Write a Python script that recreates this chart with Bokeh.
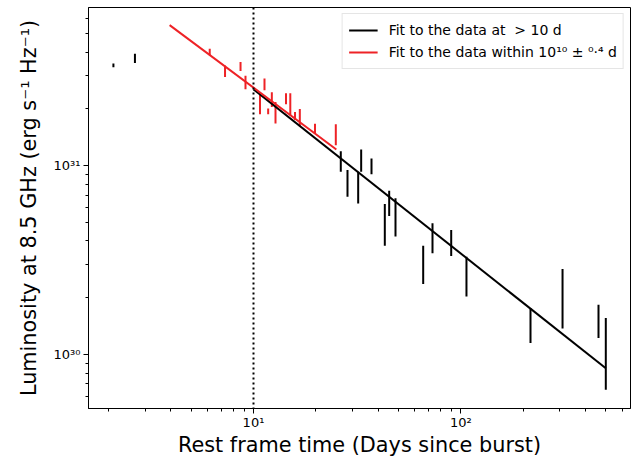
from bokeh.plotting import figure
from bokeh.models import (Range1d, FixedTicker, CustomJSTickFormatter, Span,
                          Legend, LegendItem)
from bokeh.embed import file_html
from bokeh.resources import INLINE

# ---- data ----
# early black points (before the red fit)
early_t = [2.11, 2.68]
early_lo = [3.33e31, 3.50e31]
early_hi = [3.48e31, 3.92e31]

# red points (fitted within 10^(1 +- 0.4) d)
red_t = [6.15, 7.29, 8.66, 9.15, 10.75, 11.30, 11.77, 12.26, 12.77, 14.35,
         15.05, 15.86, 16.73, 19.80, 24.95]
red_lo = [3.85e31, 2.95e31, 3.18e31, 2.54e31, 1.875e31, 2.51e31, 1.875e31,
          2.05e31, 1.675e31, 2.12e31, 1.85e31, 1.75e31, 1.62e31, 1.49e31, 1.285e31]
red_hi = [4.17e31, 3.40e31, 3.55e31, 3.00e31, 2.39e31, 2.90e31, 2.01e31,
          2.45e31, 2.18e31, 2.42e31, 2.42e31, 1.93e31, 2.00e31, 1.67e31, 1.66e31]

# black points (> 10 d)
blk_t = [26.37, 28.41, 31.99, 33.07, 37.09, 43.00, 45.14, 48.42, 65.86, 73.03,
         89.89, 106.5, 216.9, 309.6, 461.6, 500.6]
blk_lo = [9.29e30, 6.86e30, 6.32e30, 9.29e30, 9.01e30, 3.77e30, 5.42e30, 4.22e30,
          2.37e30, 3.44e30, 3.33e30, 2.03e30, 1.153e30, 1.377e30, 1.224e30, 6.53e29]
blk_hi = [1.196e31, 9.49e30, 9.29e30, 1.221e31, 1.094e31, 6.28e30, 7.38e30, 6.73e30,
          3.77e30, 4.97e30, 4.57e30, 3.30e30, 1.765e30, 2.84e30, 1.84e30, 1.563e30]

# fit lines (end points)
fit_blk_t = [10.0, 500.6]
fit_blk_L = [2.54e31, 8.47e29]
fit_red_t = [3.94, 25.1]
fit_red_L = [5.56e31, 1.22e31]

break_t = 10.0

x_major = [10, 100]
x_minor = [2, 3, 4, 5, 6, 7, 8, 9, 20, 30, 40, 50, 60, 70, 80, 90, 200, 300, 400, 500, 600]
y_major = [1e30, 1e31]
y_minor = [6e29, 7e29, 8e29, 9e29, 2e30, 3e30, 4e30, 5e30, 6e30, 7e30, 8e30, 9e30,
           2e31, 3e31, 4e31, 5e31, 6e31]

RED = "#ee2226"
FONT = "DejaVu Sans"

p = figure(width=638, height=459, x_axis_type="log", y_axis_type="log",
           x_range=Range1d(1.60, 658.6), y_range=Range1d(5.19e29, 6.89e31),
           output_backend="svg", toolbar_location=None,
           min_border_left=88, min_border_right=8, min_border_top=7, min_border_bottom=50)
p.grid.visible = False
p.outline_line_color = "black"
p.outline_line_width = 1
p.background_fill_color = "white"

fmt = CustomJSTickFormatter(code="""
const sup = {'0':'\u2070','1':'\u00b9','2':'\u00b2','3':'\u00b3','4':'\u2074','5':'\u2075',
             '6':'\u2076','7':'\u2077','8':'\u2078','9':'\u2079','-':'\u207b'};
const e = Math.round(Math.log10(tick)).toString();
return '10' + e.split('').map(c => sup[c]).join('');
""")

p.xaxis.ticker = FixedTicker(ticks=x_major, minor_ticks=x_minor)
p.yaxis.ticker = FixedTicker(ticks=y_major, minor_ticks=y_minor)
for ax in (p.xaxis[0], p.yaxis[0]):
    ax.formatter = fmt
    ax.major_tick_out = 5
    ax.major_tick_in = 0
    ax.minor_tick_out = 3
    ax.minor_tick_in = 0
    ax.major_tick_line_color = "black"
    ax.minor_tick_line_color = "black"
    ax.axis_line_color = "black"
    ax.major_label_text_font = FONT
    ax.major_label_text_font_size = "13px"
    ax.major_label_text_color = "black"
    ax.axis_label_text_font = FONT
    ax.axis_label_text_font_size = "20.8px"
    ax.axis_label_text_font_style = "normal"
    ax.axis_label_text_color = "black"

p.xaxis.major_label_standoff = 1
p.yaxis.major_label_standoff = 3
p.xaxis.axis_label = "Rest frame time (Days since burst)"
p.xaxis.axis_label_standoff = 0
p.yaxis.axis_label = "Luminosity at 8.5 GHz (erg s\u207b\u00b9 Hz\u207b\u00b9)"
p.yaxis.axis_label_standoff = 10

# vertical dotted line at 10 d
p.add_layout(Span(location=break_t, dimension="height", line_color="black",
                  line_width=2, line_dash="2 3"))

# error bars
p.segment(x0=early_t, y0=early_lo, x1=early_t, y1=early_hi, line_color="black", line_width=2)
p.segment(x0=red_t, y0=red_lo, x1=red_t, y1=red_hi, line_color=RED, line_width=2)
p.segment(x0=blk_t, y0=blk_lo, x1=blk_t, y1=blk_hi, line_color="black", line_width=2)

# fit lines
r_blk = p.line(fit_blk_t, fit_blk_L, line_color="black", line_width=2)
r_red = p.line(fit_red_t, fit_red_L, line_color=RED, line_width=2)

legend = Legend(items=[
    LegendItem(label="Fit to the data at\u00a0\u00a0>\u00a010 d", renderers=[r_blk]),
    LegendItem(label="Fit to the data within 10\u00b9\u2070 \u00b1 \u2070\u00b7\u2074 d", renderers=[r_red]),
], location="top_right")
legend.label_text_font = FONT
legend.label_text_font_size = "14px"
legend.label_text_color = "black"
legend.glyph_width = 29
legend.glyph_height = 20
legend.label_height = 20
legend.label_standoff = 11
legend.spacing = 2
legend.padding = 6
legend.margin = 6
legend.border_line_color = "#cccccc"
legend.border_line_width = 1
legend.background_fill_alpha = 0.8
p.add_layout(legend)

open("out.html", "w").write(file_html(p, INLINE))
